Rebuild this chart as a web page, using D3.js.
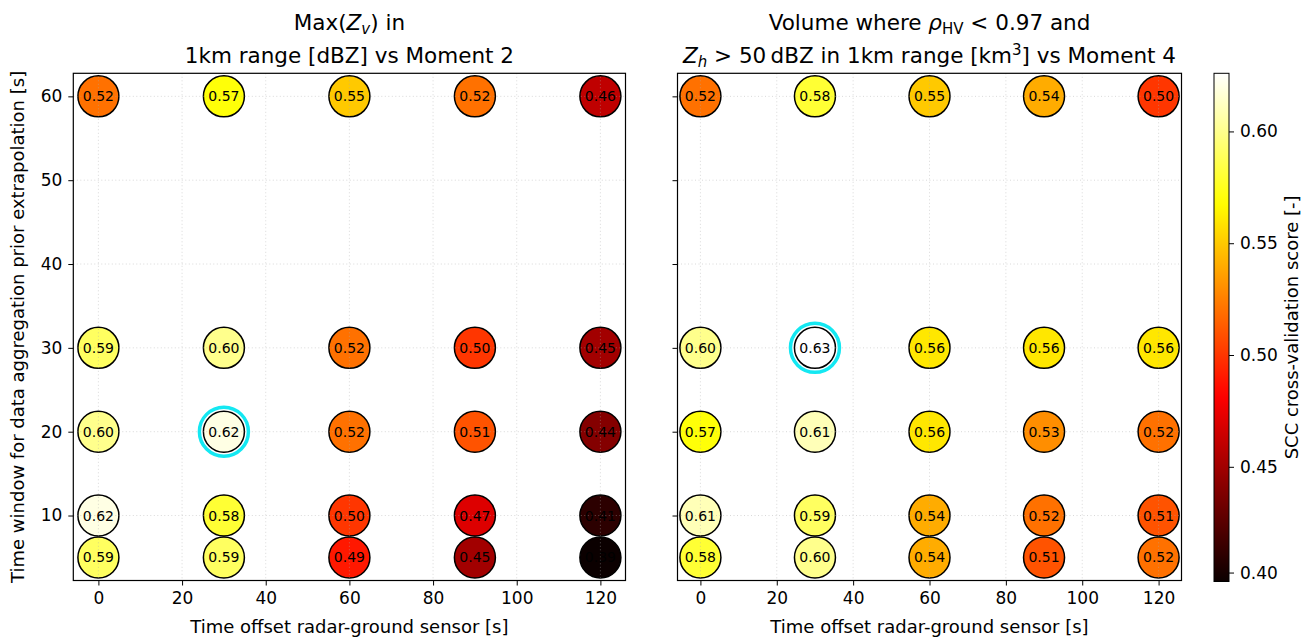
<!DOCTYPE html>
<html>
<head>
<meta charset="utf-8">
<script src="https://cdn.jsdelivr.net/npm/d3@7"></script>
<style>
  body { margin: 0; background: #fff; }
  text { font-family: 'DejaVu Sans', sans-serif; fill: #000; }
</style>
</head>
<body>
<svg id="chart" width="1309" height="637"></svg>
<script>
// categories
var offsets = [0, 30, 60, 90, 120];
var windows = [60, 30, 20, 10, 5];

// scores, one row per window (same order as windows)
var scoresZv = [
  [0.52, 0.57, 0.55, 0.52, 0.46],
  [0.59, 0.60, 0.52, 0.50, 0.45],
  [0.60, 0.62, 0.52, 0.51, 0.44],
  [0.62, 0.58, 0.50, 0.47, 0.41],
  [0.59, 0.59, 0.49, 0.45, 0.39]
];
var scoresVol = [
  [0.52, 0.58, 0.55, 0.54, 0.50],
  [0.60, 0.63, 0.56, 0.56, 0.56],
  [0.57, 0.61, 0.56, 0.53, 0.52],
  [0.61, 0.59, 0.54, 0.52, 0.51],
  [0.58, 0.60, 0.54, 0.51, 0.52]
];
var bestZv = { x: 30, y: 20 };
var bestVol = { x: 30, y: 30 };

var xTicks = [0, 20, 40, 60, 80, 100, 120];
var yTicks = [10, 20, 30, 40, 50, 60];
var cbTicks = [0.4027, 0.45, 0.50, 0.55, 0.60];
var vmin = 0.3987, vmax = 0.626;

// matplotlib "hot"
function hot(t) {
  t = Math.max(0, Math.min(1, t));
  var r = t < 0.365079 ? 0.0416 + (1 - 0.0416) * t / 0.365079 : 1;
  var g = t < 0.365079 ? 0 : (t < 0.746032 ? (t - 0.365079) / (0.746032 - 0.365079) : 1);
  var b = t < 0.746032 ? 0 : (t - 0.746032) / (1 - 0.746032);
  return d3.rgb(r * 255, g * 255, b * 255).toString();
}
var norm = d3.scaleLinear().domain([vmin, vmax]).range([0, 1]);
function color(v) { return hot(norm(v)); }

var svg = d3.select('#chart');
var plotTop = 73.3, plotBottom = 580.5;
var tickFont = '17px', labelFont = '18px', titleFont = '21.5px';

function panel(left, right, scores, best, showYLabels) {
  var x = d3.scaleLinear().domain([-6, 126]).range([left, right]);
  var y = d3.scaleLinear().domain([2.25, 62.75]).range([plotBottom, plotTop]);
  var g = svg.append('g');

  var pts = [];
  windows.forEach(function (w, i) {
    offsets.forEach(function (o, j) {
      pts.push({ x: o, y: w, v: scores[i][j] });
    });
  });

  g.selectAll('circle.pt').data(pts).enter().append('circle')
    .attr('class', 'pt')
    .attr('cx', function (d) { return x(d.x); })
    .attr('cy', function (d) { return y(d.y); })
    .attr('r', 20.5)
    .attr('fill', function (d) { return color(d.v); })
    .attr('stroke', '#000')
    .attr('stroke-width', 1.5);

  // grid on top
  g.selectAll('line.gx').data(xTicks).enter().append('line')
    .attr('x1', function (d) { return x(d); }).attr('x2', function (d) { return x(d); })
    .attr('y1', plotTop).attr('y2', plotBottom)
    .attr('stroke', 'rgba(170,170,170,0.45)').attr('stroke-dasharray', '1,2.5');
  g.selectAll('line.gy').data(yTicks).enter().append('line')
    .attr('y1', function (d) { return y(d); }).attr('y2', function (d) { return y(d); })
    .attr('x1', left).attr('x2', right)
    .attr('stroke', 'rgba(170,170,170,0.45)').attr('stroke-dasharray', '1,2.5');

  g.selectAll('text.val').data(pts).enter().append('text')
    .attr('x', function (d) { return x(d.x); })
    .attr('y', function (d) { return y(d.y); })
    .attr('dy', '0.36em')
    .attr('text-anchor', 'middle')
    .style('font-size', '14px')
    .text(function (d) { return d.v.toFixed(2); });

  g.append('circle')
    .attr('cx', x(best.x)).attr('cy', y(best.y)).attr('r', 24.5)
    .attr('fill', 'none').attr('stroke', '#14e8f2').attr('stroke-width', 3.5);

  g.append('rect')
    .attr('x', left).attr('y', plotTop).attr('width', right - left).attr('height', plotBottom - plotTop)
    .attr('fill', 'none').attr('stroke', '#000').attr('stroke-width', 1.2);

  var xa = g.append('g').attr('transform', 'translate(0,' + plotBottom + ')')
    .call(d3.axisBottom(x).tickValues(xTicks).tickSize(5).tickPadding(6));
  var ya = g.append('g').attr('transform', 'translate(' + left + ',0)')
    .call(d3.axisLeft(y).tickValues(yTicks).tickSize(5).tickPadding(6)
      .tickFormat(showYLabels ? d3.format('d') : function () { return ''; }));
  [xa, ya].forEach(function (a) {
    a.select('.domain').remove();
    a.selectAll('line').attr('stroke', '#000').attr('stroke-width', 1);
    a.selectAll('text').style('font-size', tickFont).style('font-family', "'DejaVu Sans', sans-serif");
  });

  svg.append('text')
    .attr('x', (left + right) / 2).attr('y', 633)
    .attr('text-anchor', 'middle').style('font-size', labelFont)
    .text('Time offset radar-ground sensor [s]');
  return (left + right) / 2;
}

var c1 = panel(73.3, 625.5, scoresZv, bestZv, true);
var c2 = panel(677.5, 1181.5, scoresVol, bestVol, false);

svg.append('text')
  .attr('transform', 'translate(24,' + (plotTop + plotBottom) / 2 + ') rotate(-90)')
  .attr('text-anchor', 'middle').style('font-size', labelFont)
  .text('Time window for data aggregation prior extrapolation [s]');

// titles
var t1 = svg.append('text').attr('text-anchor', 'middle').style('font-size', titleFont);
var l1 = t1.append('tspan').attr('x', c1).attr('y', 30);
l1.append('tspan').text('Max(');
l1.append('tspan').style('font-style', 'italic').text('Z');
l1.append('tspan').style('font-style', 'italic').style('font-size', '15px').attr('dy', 4).text('v');
l1.append('tspan').attr('dy', -4).text(') in');
t1.append('tspan').attr('x', c1).attr('y', 63).text('1km range [dBZ] vs Moment 2');

var t2 = svg.append('text').attr('text-anchor', 'middle').style('font-size', titleFont);
var m1 = t2.append('tspan').attr('x', c2).attr('y', 30);
m1.append('tspan').text('Volume where ');
m1.append('tspan').style('font-style', 'italic').text('ρ');
m1.append('tspan').style('font-size', '15px').attr('dy', 4).text('HV');
m1.append('tspan').attr('dy', -4).text(' < 0.97 and');
var m2 = t2.append('tspan').attr('x', c2).attr('y', 63);
m2.append('tspan').style('font-style', 'italic').text('Z');
m2.append('tspan').style('font-style', 'italic').style('font-size', '15px').attr('dy', 4).text('h');
m2.append('tspan').attr('dy', -4).text(' > 50\u2009dBZ in 1km range [km');
m2.append('tspan').style('font-size', '15px').attr('dy', -8).text('3');
m2.append('tspan').attr('dy', 8).text('] vs Moment 4');

// colorbar
var cbX = 1214, cbW = 15, cbTop = 73.3, cbBottom = 581.5;
var cbScale = d3.scaleLinear().domain([vmin, vmax]).range([cbBottom, cbTop]);
var defs = svg.append('defs');
var grad = defs.append('linearGradient').attr('id', 'cbgrad')
  .attr('x1', 0).attr('y1', 1).attr('x2', 0).attr('y2', 0);
d3.range(0, 1.0001, 0.02).forEach(function (t) {
  grad.append('stop').attr('offset', t).attr('stop-color', hot(t));
});
svg.append('rect').attr('x', cbX).attr('y', cbTop).attr('width', cbW)
  .attr('height', cbBottom - cbTop).attr('fill', 'url(#cbgrad)')
  .attr('stroke', '#000').attr('stroke-width', 1);
var cba = svg.append('g').attr('transform', 'translate(' + (cbX + cbW) + ',0)')
  .call(d3.axisRight(cbScale).tickValues(cbTicks).tickFormat(d3.format('.2f')).tickSize(5).tickPadding(6));
cba.select('.domain').remove();
cba.selectAll('line').attr('stroke', '#000');
cba.selectAll('text').style('font-size', tickFont).style('font-family', "'DejaVu Sans', sans-serif");

svg.append('text')
  .attr('transform', 'translate(1298,' + (cbTop + cbBottom) / 2 + ') rotate(-90)')
  .attr('text-anchor', 'middle').style('font-size', labelFont)
  .text('SCC cross-validation score [-]');
</script>
</body>
</html>
